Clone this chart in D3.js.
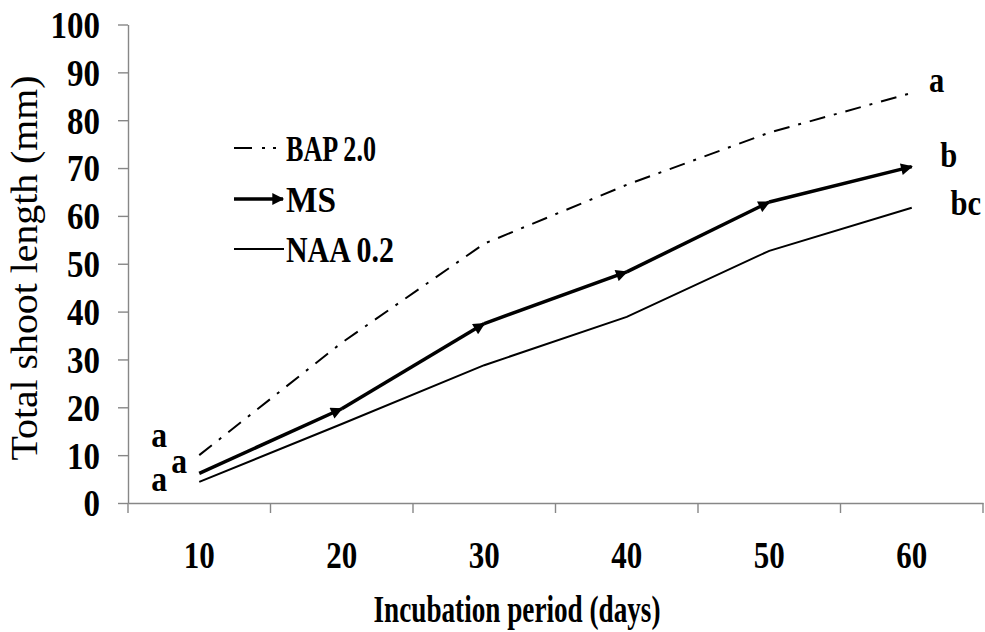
<!DOCTYPE html>
<html>
<head>
<meta charset="utf-8">
<script src="https://cdn.jsdelivr.net/npm/d3@7"></script>
<style>
  html, body { margin: 0; padding: 0; background: #fff; }
  svg { display: block; }
  text { font-family: "Liberation Serif", "Times New Roman", serif; fill: #000; }
</style>
</head>
<body>
<svg id="chart" width="985" height="632"></svg>
<script>
// ---- data ----
const categories = ["10", "20", "30", "40", "50", "60"];
const seriesNames = ["BAP 2.0", "MS", "NAA 0.2"];
const bapValues = [10.0, 33.5, 54.2, 66.5, 77.4, 85.7];
const msValues  = [6.2, 19.7, 37.5, 48.3, 62.9, 70.3];
const naaValues = [4.4, 16.5, 28.8, 38.9, 52.7, 61.7];
const startLetters = ["a", "a", "a"];
const endLetters = ["a", "b", "bc"];
const yTicks = [0, 10, 20, 30, 40, 50, 60, 70, 80, 90, 100];
const xTitle = "Incubation period (days)";
const yTitle = "Total shoot length (mm)";

const series = [
  { name: seriesNames[0], values: bapValues, start: startLetters[0], end: endLetters[0] },
  { name: seriesNames[1], values: msValues,  start: startLetters[1], end: endLetters[1] },
  { name: seriesNames[2], values: naaValues, start: startLetters[2], end: endLetters[2] }
];

// ---- styles ----
const styles = [
  { width: 2, dash: "16,9,3,9", arrow: false, startOff: [-40, -8], endOff: [25, -1], legendW: 90 },
  { width: 3.5, dash: null, arrow: true, startOff: [-20, 0], endOff: [37, 0], legendW: 50 },
  { width: 2, dash: null, arrow: false, startOff: [-40, 9], endOff: [54, 7], legendW: 108 }
];

const svg = d3.select("#chart");
const mLeft = 128, mRight = 983, mTop = 24.5, mBottom = 503;
const axisColor = "#878787";

const x = d3.scaleBand().domain(categories).range([mLeft, mRight]).padding(0);
const y = d3.scaleLinear().domain([0, 100]).range([mBottom, mTop]);
const cx = c => x(c) + x.bandwidth() / 2;

function squeeze(sel, f) {
  sel.each(function () {
    const w = this.getComputedTextLength();
    d3.select(this).attr("textLength", w * f).attr("lengthAdjust", "spacingAndGlyphs");
  });
}
function fitTo(sel, w) {
  sel.attr("textLength", w).attr("lengthAdjust", "spacingAndGlyphs");
}

// arrow marker
const defs = svg.append("defs");
defs.append("marker")
  .attr("id", "arrow")
  .attr("viewBox", "0 0 10 10")
  .attr("refX", 9).attr("refY", 5)
  .attr("markerWidth", 3.8).attr("markerHeight", 3.4)
  .attr("markerUnits", "strokeWidth")
  .attr("orient", "auto")
  .append("path").attr("d", "M0,0 L10,5 L0,10 Z").attr("fill", "#000");

// y axis
const yAxis = svg.append("g")
  .attr("transform", `translate(${mLeft},0)`)
  .call(d3.axisLeft(y).tickValues(yTicks).tickSize(10).tickSizeOuter(0).tickPadding(18));
yAxis.select(".domain").attr("stroke", axisColor).attr("stroke-width", 1.4);
yAxis.selectAll(".tick line").attr("stroke", axisColor).attr("stroke-width", 1.4);
yAxis.selectAll(".tick text")
  .attr("font-family", "Liberation Serif").attr("font-weight", "bold")
  .attr("font-size", 38).attr("dy", "0.34em")
  .each(function (d) { d3.select(this).call(fitTo, String(d).length * 16.5); });

// x axis: labels centred on categories, ticks at category boundaries
const xAxis = svg.append("g")
  .attr("transform", `translate(0,${mBottom})`)
  .call(d3.axisBottom(x).tickSize(0).tickPadding(0));
xAxis.select(".domain").attr("stroke", axisColor).attr("stroke-width", 1.4);
xAxis.selectAll(".tick text")
  .attr("font-family", "Liberation Serif").attr("font-weight", "bold")
  .attr("font-size", 37).attr("y", 65).attr("dy", 0)
  .each(function (d) { d3.select(this).call(fitTo, String(d).length * 15.5); });
const bounds = categories.map(c => x(c)).concat([x.range()[1]]);
xAxis.selectAll(".bound").data(bounds).join("line").attr("class", "bound")
  .attr("x1", d => d).attr("x2", d => d).attr("y1", 0).attr("y2", 10)
  .attr("stroke", axisColor).attr("stroke-width", 1.4);

// axis titles
svg.append("text")
  .attr("x", 517).attr("y", 622)
  .attr("text-anchor", "middle").attr("font-weight", "bold").attr("font-size", 38)
  .text(xTitle).call(fitTo, 287);
svg.append("text")
  .attr("transform", "translate(37,268) rotate(-90)")
  .attr("text-anchor", "middle").attr("font-size", 37)
  .text(yTitle).call(fitTo, 385);

// lines
const line = d3.line().x((d, i) => cx(categories[i])).y(d => y(d));
series.forEach((s, si) => {
  const st = styles[si];
  if (st.arrow) {
    const pts = s.values.map((v, i) => [cx(categories[i]), y(v)]);
    svg.append("g").selectAll("line").data(d3.pairs(pts)).join("line")
      .attr("x1", d => d[0][0]).attr("y1", d => d[0][1])
      .attr("x2", d => d[1][0]).attr("y2", d => d[1][1])
      .attr("stroke", "#000").attr("stroke-width", st.width)
      .attr("marker-end", "url(#arrow)");
  } else {
    svg.append("path").datum(s.values)
      .attr("d", line).attr("fill", "none")
      .attr("stroke", "#000").attr("stroke-width", st.width)
      .attr("stroke-dasharray", st.dash);
  }
  // significance letters
  svg.append("text")
    .attr("x", cx(categories[0]) + st.startOff[0])
    .attr("y", y(s.values[0]) + st.startOff[1])
    .attr("text-anchor", "middle").attr("font-weight", "bold").attr("font-size", 36)
    .text(s.start).call(squeeze, 0.88);
  const last = s.values.length - 1;
  svg.append("text")
    .attr("x", cx(categories[last]) + st.endOff[0])
    .attr("y", y(s.values[last]) + st.endOff[1])
    .attr("text-anchor", "middle").attr("font-weight", "bold").attr("font-size", 36)
    .text(s.end).call(squeeze, 0.85);
});

// legend
const legendRows = [148, 199, 249];
const legendDash = ["18,10,3,8,3,30", null, null];
const lg = svg.append("g");
series.forEach((s, si) => {
  const st = styles[si];
  const ly = legendRows[si];
  lg.append("line")
    .attr("x1", 234).attr("x2", si === 1 ? 283 : 284)
    .attr("y1", ly).attr("y2", ly)
    .attr("stroke", "#000").attr("stroke-width", st.width)
    .attr("stroke-dasharray", legendDash[si])
    .attr("marker-end", st.arrow ? "url(#arrow)" : null);
  lg.append("text")
    .attr("x", 286).attr("y", ly).attr("dy", "0.35em")
    .attr("font-weight", "bold").attr("font-size", 36)
    .text(s.name).call(fitTo, st.legendW);
});
</script>
</body>
</html>
